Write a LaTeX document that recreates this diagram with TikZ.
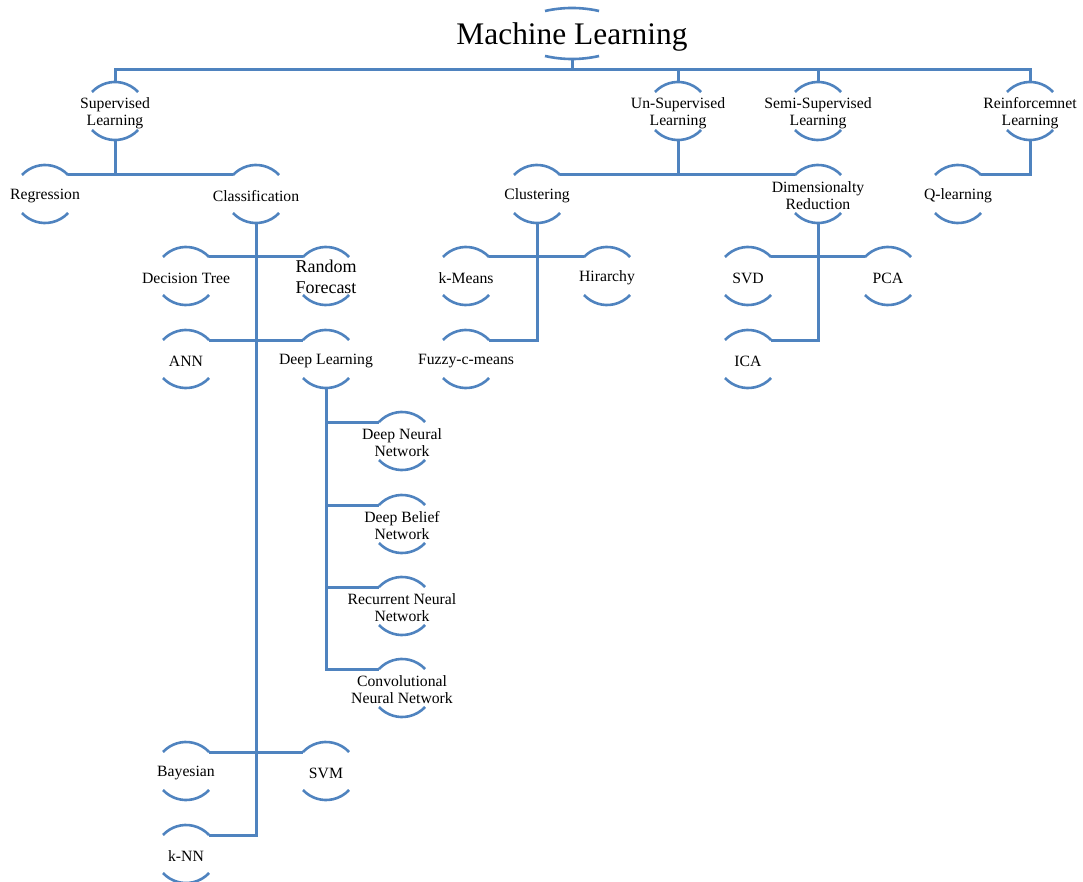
\documentclass[tikz,border=0pt]{standalone}
\usepackage{fontspec}
\setmainfont{Liberation Serif}
\usepackage{tikz}
\definecolor{BranchBlue}{HTML}{4F83BF}

\tikzset{
  leaf/.style={font=\fontsize{15.7}{17}\selectfont, align=center, inner sep=0pt, yshift=-2pt},
  bigleaf/.style={font=\fontsize{18}{21}\selectfont, align=center, inner sep=0pt, yshift=-1pt},
  link/.style={draw=BranchBlue, line width=3pt},
  bracket/.style={draw=BranchBlue, line width=2.6pt},
}

\begin{document}
\begin{tikzpicture}[x=1pt,y=-1pt]
  \useasboundingbox (0,0) rectangle (1083,882);
  % root
  \node[font=\fontsize{31.4}{34}\selectfont, inner sep=0pt, yshift=-3pt] (ml) at (572,34) {Machine Learning};
  \draw[bracket] (545,11) arc[start angle=102.7, end angle=77.3, radius=123pt];
  \draw[bracket] (545,56) arc[start angle=257.3, end angle=282.7, radius=123pt];
  \coordinate (ml-b) at (572,58);
  \coordinate (bar) at (572,70);
  % all other nodes
  \foreach \name/\x/\y/\st/\txt in {
    sup/115/111/leaf/{Supervised\\Learning},
    uns/678/111/leaf/{Un-Supervised\\Learning},
    sem/818/111/leaf/{Semi-Supervised\\Learning},
    rei/1030/111/leaf/{Reinforcemnet\\Learning},
    reg/45/194/leaf/Regression,
    cls/256/194/leaf/Classification,
    clu/537/194/leaf/Clustering,
    dim/818/194/leaf/{Dimensionalty\\Reduction},
    qle/958/194/leaf/Q-learning,
    dtr/186/276/leaf/Decision Tree,
    rnf/326/276/bigleaf/{Random\\Forecast},
    ann/186/359/leaf/ANN,
    dpl/326/359/leaf/Deep Learning,
    dnn/402/441/leaf/{Deep Neural\\Network},
    dbn/402/524/leaf/{Deep Belief\\Network},
    rnn/402/606/leaf/{Recurrent Neural\\Network},
    cnn/402/688/leaf/{Convolutional\\Neural Network},
    bay/186/771/leaf/Bayesian,
    svm/326/771/leaf/SVM,
    knn/186/854/leaf/k-NN,
    kme/466/276/leaf/k-Means,
    hir/607/276/leaf/Hirarchy,
    fcm/466/359/leaf/Fuzzy-c-means,
    svd/748/276/leaf/SVD,
    pca/888/276/leaf/PCA,
    ica/748/359/leaf/ICA} {
    \node[\st] (\name) at (\x,\y) {\txt};
    \draw[bracket] (\x-23,\y-19) arc[start angle=137, end angle=43, radius=31.5pt];
    \draw[bracket] (\x-23,\y+19) arc[start angle=223, end angle=317, radius=31.5pt];
    \coordinate (\name-tl) at (\x-23,\y-19);
    \coordinate (\name-tr) at (\x+23,\y-19);
    \coordinate (\name-t) at (\x,\y-29);
    \coordinate (\name-b) at (\x,\y+29);
  }
  % top level
  \draw[link] (ml-b) -- (bar);
  \draw[link] (sup-t) |- (bar) -| (rei-t);
  \draw[link] (uns-t) -- (uns-t |- bar);
  \draw[link] (sem-t) -- (sem-t |- bar);
  % second level
  \draw[link] (reg-tr) -- (cls-tl);
  \draw[link] (sup-b) -- (sup-b |- reg-tr);
  \draw[link] (clu-tr) -- (dim-tl);
  \draw[link] (uns-b) -- (uns-b |- clu-tr);
  \draw[link] (rei-b) |- (qle-tr);
  % classification
  \draw[link] (cls-b) |- (knn-tr);
  \draw[link] (dtr-tr) -- (rnf-tl);
  \draw[link] (ann-tr) -- (dpl-tl);
  \draw[link] (bay-tr) -- (svm-tl);
  \draw[link] (dpl-b) |- (cnn-tl);
  \foreach \c in {dnn,dbn,rnn}
    \draw[link] (\c-tl) -- (\c-tl -| dpl-b);
  % clustering
  \draw[link] (clu-b) |- (fcm-tr);
  \draw[link] (kme-tr) -- (hir-tl);
  % dimensionality reduction
  \draw[link] (dim-b) |- (ica-tr);
  \draw[link] (svd-tr) -- (pca-tl);
\end{tikzpicture}
\end{document}
